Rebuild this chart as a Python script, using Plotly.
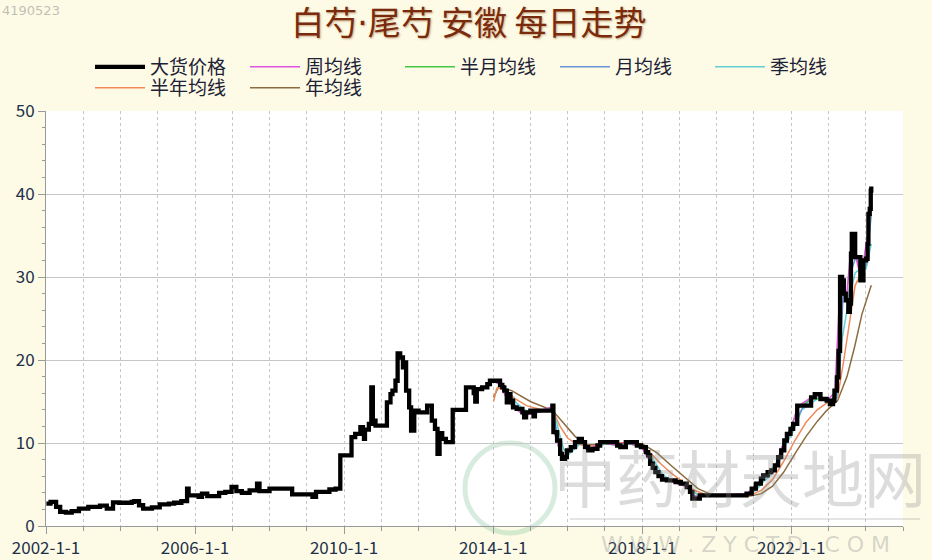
import plotly.graph_objects as go

# ---------------- data ----------------
price_dates = [
    "2002-01-05", "2002-02-15", "2002-04-10", "2002-05-20", "2002-07-15", "2002-09-10", "2002-11-20",
    "2003-02-20", "2003-06-15", "2003-08-20", "2003-10-20", "2003-12-20", "2004-04-20", "2004-05-15",
    "2004-07-01", "2004-08-10", "2004-11-05", "2005-01-20", "2005-04-20", "2005-06-10", "2005-08-20",
    "2005-10-15", "2005-10-30", "2006-02-05", "2006-03-10", "2006-05-01", "2006-08-25", "2006-10-25",
    "2006-12-25", "2007-02-10", "2007-04-05", "2007-06-20", "2007-09-01", "2007-09-25", "2008-01-01",
    "2008-05-15", "2008-08-10", "2008-12-25", "2009-02-25", "2009-04-01", "2009-08-10", "2009-10-10",
    "2009-11-25", "2010-03-15", "2010-04-20", "2010-06-10", "2010-07-05", "2010-07-15", "2010-07-25",
    "2010-09-01", "2010-09-25", "2010-10-10", "2010-11-05", "2011-02-25", "2011-04-01", "2011-04-20",
    "2011-05-20", "2011-06-10", "2011-07-05", "2011-08-01", "2011-08-20", "2011-09-01", "2011-10-01",
    "2011-10-20", "2011-11-20", "2012-01-01", "2012-03-25", "2012-05-10", "2012-06-10", "2012-07-05",
    "2012-07-25", "2012-08-20", "2012-09-25", "2012-12-01", "2013-04-10", "2013-06-25", "2013-07-10",
    "2013-07-25", "2013-09-15", "2013-11-05", "2013-12-01", "2014-03-10", "2014-04-01", "2014-04-20",
    "2014-05-15", "2014-06-01", "2014-06-20", "2014-07-15", "2014-08-20", "2014-10-15", "2014-11-01",
    "2014-11-20", "2015-01-01", "2015-02-01", "2015-02-15", "2015-08-05", "2015-08-15", "2015-09-20",
    "2015-10-20", "2015-11-07", "2015-12-05", "2015-12-25", "2016-02-01", "2016-03-14", "2016-04-20",
    "2016-05-20", "2016-06-20", "2016-07-20", "2016-09-01", "2016-10-20", "2016-11-15", "2017-05-01",
    "2017-06-01", "2017-07-25", "2017-11-10", "2017-12-20", "2018-02-06", "2018-03-01", "2018-03-20",
    "2018-04-15", "2018-05-10", "2018-06-10", "2018-07-15", "2018-09-01", "2018-11-25", "2019-01-15",
    "2019-03-14", "2019-04-15", "2019-05-08", "2019-07-20", "2020-10-20", "2020-12-10", "2021-01-20",
    "2021-03-10", "2021-04-01", "2021-05-15", "2021-06-20", "2021-07-25", "2021-08-26", "2021-09-25",
    "2021-10-25", "2021-11-20", "2021-12-25", "2022-01-20", "2022-03-01", "2022-07-15", "2022-08-20",
    "2022-10-15", "2022-12-15", "2023-01-15", "2023-02-15", "2023-03-01", "2023-03-25", "2023-04-10",
    "2023-04-25", "2023-05-15", "2023-06-01", "2023-06-20", "2023-07-15", "2023-07-30", "2023-08-10",
    "2023-08-18", "2023-09-20", "2023-10-20", "2023-11-10", "2023-12-10", "2024-01-05", "2024-01-20",
    "2024-01-28", "2024-02-10", "2024-02-20", "2024-02-25",
]
price_values = [
    2.7, 2.9, 2.3, 1.7, 1.6, 1.8, 2.1,
    2.3, 2.45, 2.1, 2.85, 2.8, 2.9, 3.0,
    2.5, 2.1, 2.25, 2.6, 2.7, 2.8, 3.0,
    4.5, 3.7, 3.5, 3.9, 3.6, 4.0, 4.1,
    4.7, 4.2, 4.0, 4.3, 5.1, 4.2, 4.5,
    4.5, 3.8, 3.8, 3.5, 4.1, 4.4, 4.5,
    8.5, 10.7, 11.1, 11.9, 11.5, 10.5, 11.6,
    12.3, 16.7, 12.7, 12.1, 14.9, 15.9, 16.3,
    17.5, 20.8, 20.3, 19.1, 19.7, 16.3, 14.3,
    11.5, 13.9, 13.7, 14.5, 12.7, 11.7, 8.7,
    11.2, 10.5, 10.1, 14.0, 16.7, 16.0, 15.0,
    16.5, 16.7, 17.1, 17.5, 17.0, 16.7, 16.3,
    14.9, 15.9, 15.1, 14.3, 14.1, 13.7, 13.1,
    13.7, 13.9, 13.2, 13.9, 14.5, 11.3, 10.3,
    8.7, 8.1, 8.3, 9.1, 9.5, 10.1, 10.5,
    10.1, 9.5, 9.1, 9.3, 9.7, 10.1, 9.7,
    9.5, 10.1, 9.7, 9.5, 8.9, 8.5, 7.5,
    7.0, 6.5, 6.0, 5.6, 5.5, 5.3, 5.1,
    4.7, 4.1, 3.3, 3.7, 3.9, 4.5, 5.1,
    5.7, 6.1, 6.5, 6.7, 7.3, 8.3, 9.1,
    10.3, 11.1, 11.7, 12.3, 14.5, 15.5, 15.9,
    15.3, 15.1, 14.7, 15.1, 16.3, 17.9, 21.1,
    30.0, 29.6, 28.0, 27.2, 25.8, 26.8, 32.8,
    35.2, 32.4, 32.4, 29.6, 32.0, 32.2, 34.0,
    37.6, 38.2, 40.4, 40.9,
]

week_dates = ["2014-01-05", "2014-03-15", "2014-05-20", "2014-07-20", "2014-11-05", "2015-02-20", "2015-08-10",
              "2015-08-20", "2015-10-25", "2015-11-15", "2016-03-20", "2016-05-25", "2016-07-25", "2016-11-20",
              "2017-05-05", "2017-07-30", "2017-12-25", "2018-03-25", "2018-06-15", "2018-09-05", "2019-03-20",
              "2019-05-12", "2019-07-25", "2020-10-25", "2021-03-15", "2021-07-30", "2021-10-01", "2021-12-30",
              "2022-03-05", "2022-08-25", "2022-12-20", "2023-03-05", "2023-04-28", "2023-06-25", "2023-08-20",
              "2023-09-25", "2023-11-15", "2024-01-25", "2024-02-25"]
week_values = [17.5, 17.0, 15.1, 14.3, 13.3, 13.7, 14.4,
               11.6, 8.6, 8.2, 10.1, 10.1, 9.1, 10.1,
               9.7, 10.1, 9.5, 7.7, 6.0, 5.5, 4.7,
               3.4, 3.7, 3.9, 5.6, 7.2, 9.5, 11.6,
               14.4, 15.8, 15.1, 16.1, 29.5, 27.3, 34.8,
               32.5, 29.8, 35.5, 40.5]

half_month_dates = ["2014-01-10", "2014-04-10", "2014-05-25", "2014-07-25", "2014-10-25", "2015-02-25", "2015-08-10",
                    "2015-08-30", "2015-10-30", "2015-12-20", "2016-03-25", "2016-05-01", "2016-07-30", "2016-11-25",
                    "2017-05-10", "2017-08-05", "2017-12-30", "2018-03-10", "2018-05-20", "2018-07-25", "2018-12-05",
                    "2019-03-25", "2019-05-20", "2019-08-01", "2020-10-30", "2021-01-30", "2021-05-25", "2021-08-01",
                    "2021-10-05", "2021-12-05", "2022-03-10", "2022-07-25", "2022-10-25", "2023-01-25", "2023-03-15",
                    "2023-05-01", "2023-06-10", "2023-07-25", "2023-08-25", "2023-10-01", "2023-11-20", "2024-01-15",
                    "2024-02-25"]
half_month_values = [17.5, 16.9, 15.3, 14.4, 13.6, 13.7, 14.3,
                     11.0, 8.6, 8.5, 10.0, 10.4, 9.2, 10.0,
                     9.7, 10.0, 9.5, 8.6, 6.6, 5.6, 5.3,
                     4.7, 3.4, 3.7, 3.8, 5.0, 6.4, 7.4,
                     9.2, 11.2, 14.2, 15.4, 15.3, 14.8, 16.6,
                     27.5, 28.4, 26.4, 34.0, 32.4, 30.2, 32.8,
                     39.5]

month_dates = ["2014-01-20", "2014-04-20", "2014-05-30", "2014-07-25", "2014-09-20", "2014-11-20", "2015-02-20",
               "2015-08-10", "2015-09-10", "2015-10-20", "2015-11-25", "2016-01-10", "2016-03-25", "2016-05-01",
               "2016-07-01", "2016-08-15", "2016-10-25", "2016-12-01", "2017-05-15", "2017-08-10", "2017-12-01",
               "2018-02-15", "2018-04-01", "2018-05-20", "2018-07-01", "2018-09-10", "2019-01-25", "2019-04-01",
               "2019-05-25", "2019-08-01", "2020-11-01", "2021-01-01", "2021-03-01", "2021-05-01", "2021-07-01",
               "2021-09-05", "2021-10-25", "2021-12-25", "2022-03-10", "2022-05-01", "2022-08-01", "2022-11-01",
               "2023-01-25", "2023-03-20", "2023-04-25", "2023-05-25", "2023-07-10", "2023-08-20", "2023-10-01",
               "2023-11-20", "2024-01-10", "2024-02-25"]
month_values = [17.4, 16.9, 15.6, 14.7, 14.0, 13.5, 13.6,
                14.1, 11.8, 9.6, 8.4, 8.8, 9.8, 10.4,
                9.7, 9.2, 9.6, 10.0, 9.8, 9.9, 9.7,
                9.1, 8.0, 6.9, 6.0, 5.5, 5.2, 4.7,
                3.6, 3.6, 3.8, 4.4, 5.3, 6.1, 6.8,
                8.0, 9.6, 11.2, 13.3, 14.5, 15.4, 15.4,
                14.9, 15.8, 20.0, 28.0, 27.0, 31.0, 32.6,
                30.8, 31.6, 37.5]

quarter_dates = ["2014-01-20", "2014-03-10", "2014-05-01", "2014-06-20", "2014-08-20", "2014-11-01", "2015-01-20",
                 "2015-04-01", "2015-08-05", "2015-09-15", "2015-10-20", "2015-11-25", "2016-01-10", "2016-03-14",
                 "2016-05-20", "2016-07-20", "2016-09-01", "2016-11-15", "2017-02-01", "2017-06-01", "2017-09-01",
                 "2017-12-20", "2018-03-01", "2018-05-10", "2018-07-15", "2018-10-01", "2019-01-15", "2019-04-15",
                 "2019-07-20", "2019-10-01", "2020-10-20", "2021-01-20", "2021-04-01", "2021-06-20", "2021-09-01",
                 "2021-11-01", "2022-01-20", "2022-04-15", "2022-07-15", "2022-10-15", "2023-01-15", "2023-03-25",
                 "2023-05-15", "2023-07-15", "2023-09-20", "2023-11-10", "2024-01-05", "2024-02-25"]
quarter_values = [17.3, 17.3, 16.8, 15.8, 14.8, 14.0, 13.7,
                  13.9, 14.0, 12.5, 10.8, 9.2, 8.6, 9.3,
                  10.1, 9.6, 9.3, 9.7, 10.0, 9.7, 9.9,
                  9.8, 9.1, 7.6, 6.3, 5.5, 5.2, 4.5,
                  3.6, 3.6, 3.7, 4.3, 5.3, 6.2, 7.6,
                  9.6, 11.4, 14.0, 14.8, 15.6, 15.2, 15.5,
                  22.5, 27.0, 30.5, 31.0, 31.0, 34.0]

half_year_dates = ["2014-01-05", "2014-02-06", "2014-04-20", "2014-08-08", "2014-11-25", "2015-04-20", "2015-08-08",
                   "2015-10-20", "2016-01-01", "2016-03-14", "2016-07-02", "2016-10-20", "2017-03-14", "2017-08-08",
                   "2017-11-25", "2018-03-14", "2018-07-02", "2018-10-20", "2019-02-06", "2019-05-27", "2019-09-13",
                   "2020-01-01", "2020-07-02", "2020-11-25", "2021-03-14", "2021-07-02", "2021-10-20", "2022-02-06",
                   "2022-05-27", "2022-09-13", "2022-12-14", "2023-04-01", "2023-06-01", "2023-08-01", "2023-09-20",
                   "2023-11-20", "2024-01-15"]
half_year_values = [15.0, 16.6, 16.5, 15.3, 14.5, 14.0, 13.9,
                    12.0, 10.6, 10.0, 9.6, 9.7, 10.0, 10.0,
                    9.9, 8.9, 7.5, 6.3, 5.3, 4.3, 3.8,
                    3.6, 3.6, 3.7, 4.3, 5.6, 7.8, 10.3,
                    12.5, 14.0, 14.8, 15.5, 20.0, 25.0, 29.0,
                    30.5, 31.5]

year_dates = ["2014-01-05", "2014-02-24", "2014-07-02", "2015-01-01", "2015-08-08", "2015-11-25", "2016-03-14",
              "2016-07-02", "2016-10-20", "2017-03-14", "2017-08-08", "2018-01-01", "2018-05-27", "2018-10-20",
              "2019-03-14", "2019-07-02", "2019-10-20", "2020-04-20", "2020-11-25", "2021-03-14", "2021-07-02",
              "2021-10-20", "2022-02-06", "2022-05-27", "2022-09-13", "2022-12-14", "2023-04-01", "2023-07-02",
              "2023-09-13", "2023-11-25", "2024-02-25"]
year_values = [15.5, 16.8, 16.3, 15.0, 13.9, 12.3, 10.8,
               9.8, 9.8, 10.0, 10.0, 9.9, 8.8, 7.2,
               5.6, 4.5, 3.9, 3.6, 3.6, 3.9, 4.8,
               6.5, 8.7, 10.8, 12.6, 13.9, 15.1, 18.0,
               21.5, 25.5, 29.0]

title_text = "白芍<span style=\"font-family:DejaVu Sans\">·</span>尾芍 安徽 每日走势"

# ---------------- styling ----------------
FONT = "Noto Sans CJK SC"
colors = {
    "大货价格": "#000000",
    "周均线": "#e055e0",
    "半月均线": "#44c844",
    "月均线": "#6b93d6",
    "季均线": "#62cfd2",
    "半年均线": "#ef8a5a",
    "年均线": "#8c6c3e",
}

fig = go.Figure()

ma_series = [
    ("年均线", year_dates, year_values, "legend2", 2),
    ("半年均线", half_year_dates, half_year_values, "legend2", 1),
    ("季均线", quarter_dates, quarter_values, "legend", 5),
    ("月均线", month_dates, month_values, "legend", 4),
    ("半月均线", half_month_dates, half_month_values, "legend", 3),
    ("周均线", week_dates, week_values, "legend", 2),
]
for name, xd, yd, lg, rank in ma_series:
    fig.add_trace(go.Scatter(
        x=xd, y=yd, name=name, mode="lines",
        line=dict(color=colors[name], width=1.5),
        legend=lg, legendrank=rank,
    ))

fig.add_trace(go.Scatter(
    x=price_dates, y=price_values, name="大货价格", mode="lines",
    line=dict(color=colors["大货价格"], width=4.3, shape="hv"),
    legend="legend", legendrank=1,
))

tick_color = "#22304a"
grid_color = "#c6c6c6"

legend_common = dict(
    orientation="h", xanchor="left", yanchor="middle",
    itemwidth=50, entrywidth=90, entrywidthmode="pixels",
    font=dict(family=FONT, size=19, color="#1d2236"),
    bgcolor="rgba(0,0,0,0)", borderwidth=0,
    itemclick=False, itemdoubleclick=False,
)

fig.update_layout(
    width=932, height=560,
    margin=dict(l=46, r=29, t=111, b=34, autoexpand=False),
    paper_bgcolor="#fdfbe6",
    plot_bgcolor="#ffffff",
    showlegend=True,
    title=dict(
        text=title_text, x=0.503, xref="container", xanchor="center",
        y=1 - 23 / 560, yref="container", yanchor="middle",
        font=dict(family=FONT, size=33, color="#7a2b0e",
                  shadow="1px 1px 2px rgba(150,90,40,0.5)"),
    ),
    legend=dict(x=(90 - 46) / 857, y=(526 - 67) / 415, **legend_common),
    legend2=dict(x=(90 - 46) / 857, y=(526 - 88) / 415, **legend_common),
    xaxis=dict(
        type="date", range=["2002-01-01", "2025-01-01"],
        tick0="2002-01-01", dtick="M48", tickformat="%Y-%-m-%-d",
        ticks="outside", ticklen=7, tickcolor="#9a9a9a",
        tickfont=dict(family=FONT, size=17, color=tick_color),
        showgrid=True, gridcolor=grid_color, griddash="3px,3px", gridwidth=1,
        minor=dict(dtick="M12", tick0="2002-01-01", showgrid=True, gridcolor=grid_color,
                   griddash="3px,3px", ticks="outside", ticklen=4, tickcolor="#9a9a9a"),
        showline=True, linecolor="#9a9a9a", linewidth=1,
        zeroline=False, fixedrange=True,
    ),
    yaxis=dict(
        range=[0, 50], tick0=0, dtick=10,
        ticks="outside", ticklen=7, tickcolor="#9a9a9a",
        tickfont=dict(family=FONT, size=17, color=tick_color),
        showgrid=True, gridcolor=grid_color, gridwidth=1,
        minor=dict(dtick=2, ticks="outside", ticklen=3, tickcolor="#9a9a9a", showgrid=False),
        showline=True, linecolor="#9a9a9a", linewidth=1,
        zeroline=False, fixedrange=True,
    ),
)

# faint watermark of the source site and image id
fig.add_annotation(text="中药材天地网", xref="paper", yref="paper",
                   x=(740 - 46) / 857, y=(526 - 476) / 415, xanchor="center", yanchor="middle",
                   showarrow=False, font=dict(family=FONT, size=62, color="rgba(140,140,140,0.30)"))
fig.add_annotation(text="W W W . Z Y C T D . C O M", xref="paper", yref="paper",
                   x=(745 - 46) / 857, y=(526 - 544) / 415, xanchor="center", yanchor="middle",
                   showarrow=False, font=dict(family="DejaVu Sans", size=22, color="rgba(150,150,150,0.38)"))
fig.add_annotation(text="4190523", xref="paper", yref="paper", x=-46 / 857, y=(526 - 1) / 415,
                   xanchor="left", yanchor="top", showarrow=False,
                   font=dict(family="DejaVu Sans", size=13, color="rgba(150,150,150,0.6)"))
fig.add_shape(type="circle", xref="paper", yref="paper",
              x0=(465 - 46) / 857, x1=(555 - 46) / 857, y0=(526 - 533) / 415, y1=(526 - 443) / 415,
              line=dict(color="rgba(110,185,140,0.28)", width=5), layer="below")
fig.add_shape(type="line", xref="paper", yref="paper",
              x0=(570 - 46) / 857, x1=(920 - 46) / 857, y0=(526 - 519) / 415, y1=(526 - 519) / 415,
              line=dict(color="rgba(150,150,150,0.35)", width=1.5))

fig.write_html("out.html", config={"displayModeBar": False},
               post_script="document.body.style.margin='0px';")
